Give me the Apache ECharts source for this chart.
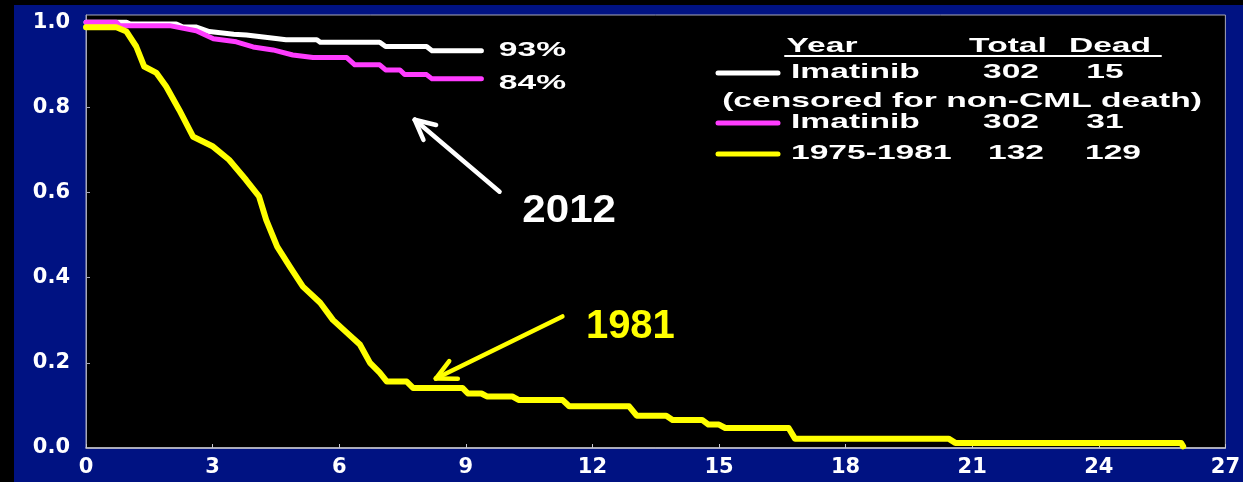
<!DOCTYPE html>
<html>
<head>
<meta charset="utf-8">
<script src="https://cdn.jsdelivr.net/npm/echarts@6/dist/echarts.min.js"></script>
<style>
html,body{margin:0;padding:0;background:#000;width:1243px;height:482px;overflow:hidden}
#chart{position:absolute;left:14px;top:5px;width:1229px;height:477px;}
</style>
</head>
<body>
<div id="chart"></div>
<script>
// ---------- DATA ----------
const seriesNames = ['Imatinib (censored for non-CML death)', 'Imatinib', '1975-1981'];
const seriesColors = ['#ffffff', '#ff3cff', '#ffff00'];
const endLabels = ['93%', '84%'];

// Survival curves: [years, proportion surviving]
const imatinibCmlData = [
  [0,1.0],[0.96,1.0],[1.05,0.996],[2.14,0.996],[2.3,0.989],[2.6,0.989],[2.92,0.978],
  [3.5,0.972],[3.8,0.970],[4.5,0.962],[4.74,0.959],[5.47,0.959],[5.55,0.953],
  [6.96,0.953],[7.1,0.943],[8.07,0.943],[8.2,0.933],[9.37,0.933]
];
const imatinibAllData = [
  [0,1.0],[0.72,1.0],[0.8,0.992],[1.98,0.992],[2.61,0.980],[3.02,0.961],[3.56,0.954],
  [3.96,0.942],[4.43,0.935],[4.9,0.923],[5.38,0.917],[6.18,0.917],[6.37,0.900],
  [6.96,0.900],[7.1,0.888],[7.44,0.888],[7.55,0.877],[8.07,0.877],[8.2,0.867],[9.37,0.867]
];
const historicData = [
  [0,0.988],[0.72,0.988],[0.96,0.978],[1.19,0.943],[1.38,0.896],[1.67,0.881],[1.90,0.849],
  [2.21,0.794],[2.54,0.731],[3.01,0.708],[3.39,0.677],[3.79,0.630],[4.10,0.591],[4.27,0.536],
  [4.53,0.473],[4.83,0.426],[5.14,0.379],[5.55,0.341],[5.85,0.301],[6.18,0.271],[6.49,0.243],
  [6.73,0.200],[6.96,0.177],[7.13,0.156],[7.60,0.156],[7.75,0.141],[8.92,0.141],[9.05,0.128],
  [9.37,0.128],[9.5,0.121],[10.1,0.121],[10.25,0.113],[11.29,0.113],[11.45,0.098],[12.87,0.098],
  [13.05,0.076],[13.75,0.076],[13.9,0.066],[14.6,0.066],[14.75,0.055],[15.0,0.055],[15.15,0.047],
  [16.65,0.047],[16.8,0.022],[20.44,0.022],[20.6,0.012],[25.95,0.012],[26.0,0.004]
];

// Axes
const xMin = 0, xMax = 27, xStep = 3;
const yMin = 0, yStep = 0.2, yTop = 1.017;

// Legend table
const legendHeader = ['Year', 'Total', 'Dead'];
const legendRows = [
  ['Imatinib', '302', '15'],
  ['(censored for non-CML death)'],
  ['Imatinib', '302', '31'],
  ['1975-1981', '132', '129']
];

// Annotations (data units)
const annotations = [
  { text: '2012', color: '#ffffff', label: [11.45, 0.557], tail: [9.80, 0.602], tip: [7.79, 0.771] },
  { text: '1981', color: '#ffff00', label: [12.90, 0.285], tail: [11.29, 0.309], tip: [8.29, 0.163] }
];

// ---------- CHART ----------
const chart = echarts.init(document.getElementById('chart'), null, { renderer: 'canvas' });
const axisFont = { color: '#ffffff', fontWeight: 'bold', fontSize: 21, fontFamily: '"DejaVu Sans", sans-serif' };
const seriesData = [imatinibCmlData, imatinibAllData, historicData];
const widths = [5, 5, 6];

chart.setOption({
  backgroundColor: '#001282',
  animation: false,
  grid: { left: 72, right: 15, top: 10, bottom: 34, show: true, backgroundColor: '#000000', borderColor: '#a8a8b8', borderWidth: 1 },
  xAxis: {
    type: 'value', min: xMin, max: xMax, interval: xStep,
    axisLine: { lineStyle: { color: '#c8c8d0', width: 1.5 } },
    axisTick: { inside: true, length: 4, lineStyle: { color: '#c8c8d0' } },
    splitLine: { show: false },
    axisLabel: Object.assign({ margin: 9 }, axisFont)
  },
  yAxis: {
    type: 'value', min: yMin, max: yTop, interval: yStep,
    axisLine: { show: true, lineStyle: { color: '#a8a8b8', width: 1 } },
    axisTick: { show: true, inside: true, length: 4, lineStyle: { color: '#a8a8b8' } },
    splitLine: { show: false },
    axisLabel: Object.assign({
      margin: 16, showMaxLabel: false,
      formatter: v => (Math.abs(v / yStep - Math.round(v / yStep)) < 1e-6 ? v.toFixed(1) : '')
    }, axisFont)
  },
  series: seriesData.map((d, i) => ({
    name: seriesNames[i], type: 'line', data: d, showSymbol: false, smooth: false,
    sampling: null, silent: true,
    lineStyle: { color: seriesColors[i], width: widths[i], cap: 'round', join: 'round' },
    z: 2 + i
  }))
});

// ---------- GRAPHICS (annotations & legend table) ----------
const OX = 14, OY = 5; // container offset on the page
const FONT = '"Liberation Sans", Arial, sans-serif';
function txt(x, y, text, o) {
  o = o || {};
  return {
    type: 'text', x: x - OX, y: y - OY, scaleX: o.sx || 1.6, z: 100,
    style: { text: text, fill: o.color || '#fff', font: 'bold ' + (o.size || 21) + 'px ' + FONT,
             align: o.align || 'center', verticalAlign: 'middle' }
  };
}
function seg(x1, y1, x2, y2, color, w, page) {
  const dx = page ? OX : 0, dy = page ? OY : 0;
  return { type: 'line', z: 100, shape: { x1: x1 - dx, y1: y1 - dy, x2: x2 - dx, y2: y2 - dy },
           style: { stroke: color, lineWidth: w, lineCap: 'round' } };
}

const g = [];
// end labels next to the Imatinib curves
[imatinibCmlData, imatinibAllData].forEach((d, i) => {
  const p = chart.convertToPixel({ gridIndex: 0 }, d[d.length - 1]);
  g.push({ type: 'text', x: p[0] + 51, y: p[1] + (i === 0 ? -1 : 4), scaleX: 1.6, z: 100,
           style: { text: endLabels[i], fill: '#fff', font: 'bold 21px ' + FONT, align: 'center', verticalAlign: 'middle' } });
});

// arrows with labels
annotations.forEach(a => {
  const tail = chart.convertToPixel({ gridIndex: 0 }, a.tail);
  const tip = chart.convertToPixel({ gridIndex: 0 }, a.tip);
  const lp = chart.convertToPixel({ gridIndex: 0 }, a.label);
  g.push(seg(tail[0], tail[1], tip[0], tip[1], a.color, 4.5));
  const ang = Math.atan2(tail[1] - tip[1], tail[0] - tip[0]);
  [-0.46, 0.46].forEach(da => {
    g.push(seg(tip[0], tip[1], tip[0] + 22 * Math.cos(ang + da), tip[1] + 22 * Math.sin(ang + da), a.color, 4.5));
  });
  g.push({ type: 'text', x: lp[0], y: lp[1], scaleX: a.text === '2012' ? 1.08 : 1.0, z: 100,
           style: { text: a.text, fill: a.color, font: 'bold ' + (a.text === '2012' ? 39 : 40) + 'px ' + FONT,
                    align: 'center', verticalAlign: 'middle' } });
});

// legend table
const colCenters = [822, 1008, 1110];
g.push(txt(colCenters[0], 46, legendHeader[0]));
g.push(txt(colCenters[1], 46, legendHeader[1]));
g.push(txt(colCenters[2], 46, legendHeader[2]));
g.push(seg(785, 56, 1161, 56, '#fff', 2, true));
const rowY = [72, 101, 122, 153];
const sampleColors = [seriesColors[0], null, seriesColors[1], seriesColors[2]];
legendRows.forEach((r, i) => {
  if (r.length === 1) {
    g.push(txt(962, rowY[i], r[0]));
    return;
  }
  g.push(seg(718, rowY[i] + 1, 778, rowY[i] + 1, sampleColors[i], 5, true));
  g.push(txt(791, rowY[i], r[0], { align: 'left' }));
  g.push(txt(colCenters[1] + (i === 3 ? 8 : 3), rowY[i], r[1]));
  g.push(txt(colCenters[2] - 5 + (i === 3 ? 8 : 0), rowY[i], r[2]));
});

chart.setOption({ graphic: g });
</script>
</body>
</html>
